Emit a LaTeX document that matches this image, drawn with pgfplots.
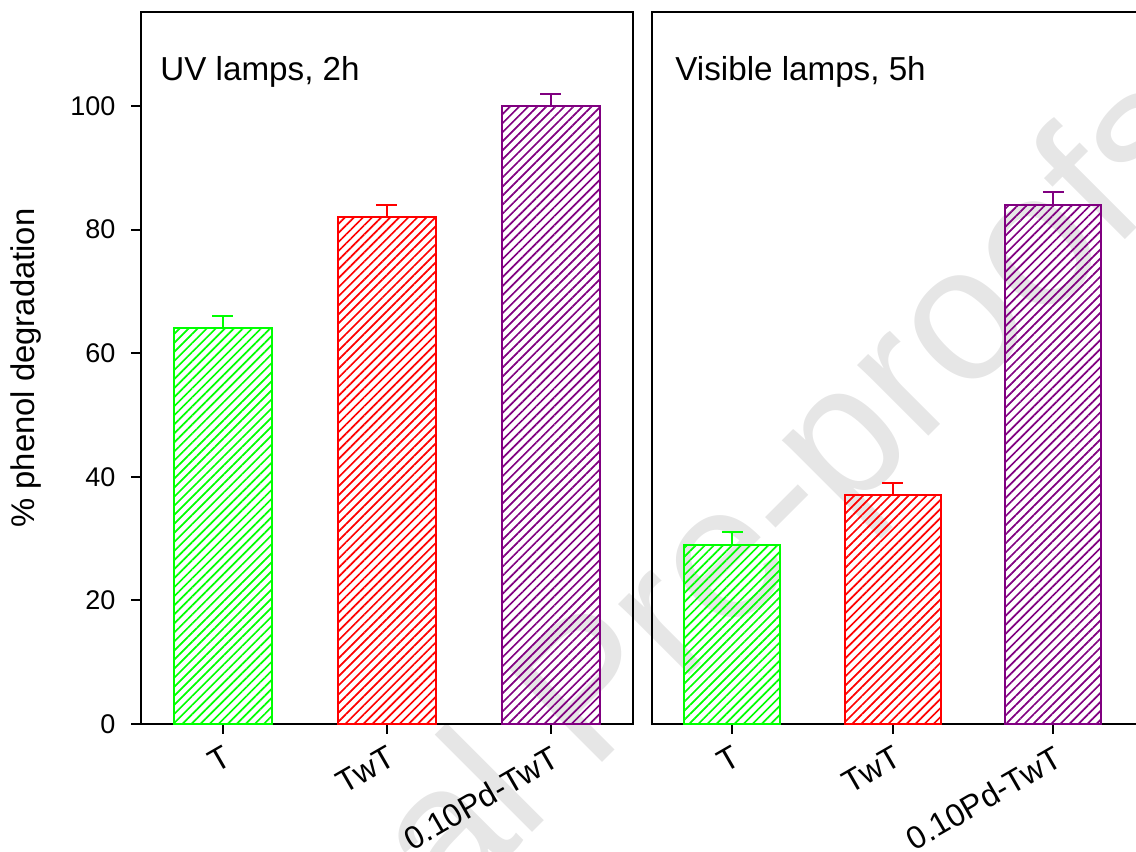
\documentclass[border=0pt]{standalone}
\usepackage{fontspec}
\setmainfont{Liberation Sans}
\usepackage{pgfplots}
\pgfplotsset{compat=1.18}
\usetikzlibrary{patterns.meta}

\definecolor{cT}{RGB}{0,255,0}
\definecolor{cTwT}{RGB}{255,0,0}
\definecolor{cPd}{RGB}{128,0,128}
\definecolor{wm}{RGB}{230,230,230}

\pgfplotsset{
  panel/.style={
    scale only axis, height=356pt,
    ymin=0, ymax=115.2, xmin=-0.5,
    xtick={0,1,2}, xticklabels={T,TwT,0.10Pd-TwT},
    tick align=outside, major tick length=4.8pt,
    xtick pos=left, ytick pos=left,
    axis line style={line width=1pt},
    every tick/.style={line width=1pt, black},
    y tick label style={font=\fontsize{13.5}{15}\selectfont, xshift=-4.5pt},
    x tick label style={font=\fontsize{16}{18}\selectfont,
      rotate=30, anchor=north east, inner sep=1pt, yshift=-3.5pt, xshift=-2pt},
    /pgf/number format/assume math mode=true,
    clip=false,
  },
  hatchbar/.style={
    ybar, bar shift=0pt, bar width=0.6, draw=#1, line width=1pt,
    pattern={Lines[angle=45,distance=3.2pt,line width=0.85pt]},
    pattern color=#1,
    error bars/.cd, y dir=plus, y explicit,
    error bar style={draw=#1, line width=1pt},
    error mark options={rotate=90, mark size=5.25pt, draw=#1, line width=1pt},
  },
}

\begin{document}
\begin{tikzpicture}
\useasboundingbox (-70.5pt,6pt) rectangle (497.5pt,-420pt);

% watermark
\node[rotate=45, anchor=base west, inner sep=0pt, text=wm,
      font=\fontsize{95}{95}\selectfont] at (-14pt,-620pt) {Journal Pre-proofs};

% UV lamps
\begin{axis}[panel, at={(0pt,0pt)}, anchor=north west,
  width=246pt, xmax=2.5, ytick={0,20,...,100}]
  \addplot[hatchbar=cT]   coordinates {(0,64) +- (0,2)};
  \addplot[hatchbar=cTwT] coordinates {(1,82) +- (0,2)};
  \addplot[hatchbar=cPd]  coordinates {(2,100) +- (0,2)};
  \node[anchor=base west, inner sep=0pt, font=\fontsize{16.6}{18}\selectfont]
    at ([xshift=9.5pt,yshift=-34pt]rel axis cs:0,1) {UV lamps, 2h};
  \node[rotate=90, anchor=base, inner sep=0pt, font=\fontsize{16.4}{18}\selectfont]
    at ([xshift=-53pt]rel axis cs:0,0.5) {\% phenol degradation};
\end{axis}

% Visible lamps
\begin{axis}[panel, at={(255.5pt,0pt)}, anchor=north west,
  width=244pt, xmax=2.54, ytick=\empty]
  \addplot[hatchbar=cT]   coordinates {(0,29) +- (0,2)};
  \addplot[hatchbar=cTwT] coordinates {(1,37) +- (0,2)};
  \addplot[hatchbar=cPd]  coordinates {(2,84) +- (0,2)};
  \node[anchor=base west, inner sep=0pt, font=\fontsize{16.6}{18}\selectfont]
    at ([xshift=11.5pt,yshift=-34pt]rel axis cs:0,1) {Visible lamps, 5h};
\end{axis}
\end{tikzpicture}
\end{document}
